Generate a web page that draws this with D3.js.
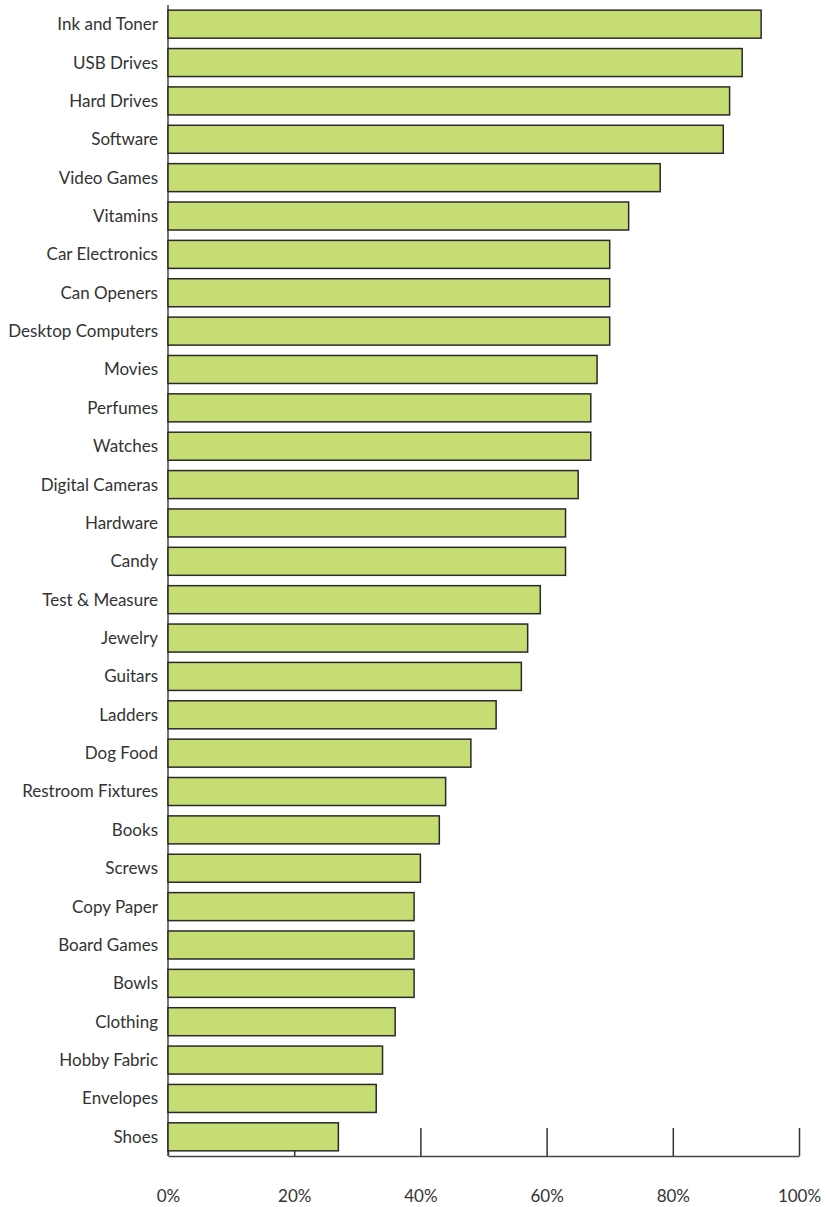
<!DOCTYPE html>
<html>
<head>
<meta charset="utf-8">
<script src="https://cdn.jsdelivr.net/npm/d3@7"></script>
<style>
  body { margin: 0; background: #fff; }
</style>
</head>
<body>
<div id="chart"></div>
<script>
const categories = ["Ink and Toner", "USB Drives", "Hard Drives", "Software", "Video Games",
  "Vitamins", "Car Electronics", "Can Openers", "Desktop Computers", "Movies",
  "Perfumes", "Watches", "Digital Cameras", "Hardware", "Candy",
  "Test & Measure", "Jewelry", "Guitars", "Ladders", "Dog Food",
  "Restroom Fixtures", "Books", "Screws", "Copy Paper", "Board Games",
  "Bowls", "Clothing", "Hobby Fabric", "Envelopes", "Shoes"];
const values = [94, 91, 89, 88, 78, 73, 70, 70, 70, 68, 67, 67, 65, 63, 63,
  59, 57, 56, 52, 48, 44, 43, 40, 39, 39, 39, 36, 34, 33, 27];
const tickValues = [0, 20, 40, 60, 80, 100];

const data = categories.map((c, i) => ({ name: c, value: values[i] }));

var W = 826, H = 1207;
var margin = { top: 5, right: 27, bottom: 51, left: 168 },
  width = W - margin.left - margin.right,
  height = H - margin.top - margin.bottom;

var svg = d3.select("#chart").append("svg")
  .attr("width", W)
  .attr("height", H)
  .append("g")
  .attr("transform", "translate(" + margin.left + "," + margin.top + ")");

var x = d3.scaleLinear().domain([0, 100]).range([0, width]);
var y = d3.scaleBand().domain(categories).range([0, height])
  .paddingInner(0.27).paddingOuter(0.135);

// x axis: short ticks drawn behind the bars
var xAxis = d3.axisBottom(x)
  .tickValues(tickValues)
  .tickSize(-28)
  .tickSizeOuter(0)
  .tickPadding(34)
  .tickFormat(d => d + "%");

var gx = svg.append("g")
  .attr("transform", "translate(0," + height + ")")
  .call(xAxis);
gx.select(".domain").attr("stroke", "#444").attr("stroke-width", 1.5);
gx.selectAll(".tick line").attr("stroke", "#333").attr("stroke-width", 1.5);
gx.selectAll(".tick text")
  .attr("font-family", "Lato")
  .attr("font-size", "17px")
  .attr("fill", "#333");

// y axis line
svg.append("line")
  .attr("x1", 0).attr("x2", 0)
  .attr("y1", 0).attr("y2", height)
  .attr("stroke", "#444")
  .attr("stroke-width", 1.5);

svg.selectAll("rect.bar")
  .data(data)
  .enter().append("rect")
  .attr("class", "bar")
  .attr("x", 0)
  .attr("y", d => y(d.name))
  .attr("width", d => x(d.value))
  .attr("height", y.bandwidth())
  .attr("fill", "#c5dd72")
  .attr("stroke", "#2a2a2a")
  .attr("stroke-width", 1.5);

svg.selectAll("text.label")
  .data(data)
  .enter().append("text")
  .attr("class", "label")
  .attr("x", -10)
  .attr("y", d => y(d.name) + y.bandwidth() / 2)
  .attr("dy", ".35em")
  .attr("text-anchor", "end")
  .attr("font-family", "Lato")
  .attr("font-size", "17px")
  .attr("fill", "#333")
  .text(d => d.name);
</script>
</body>
</html>
